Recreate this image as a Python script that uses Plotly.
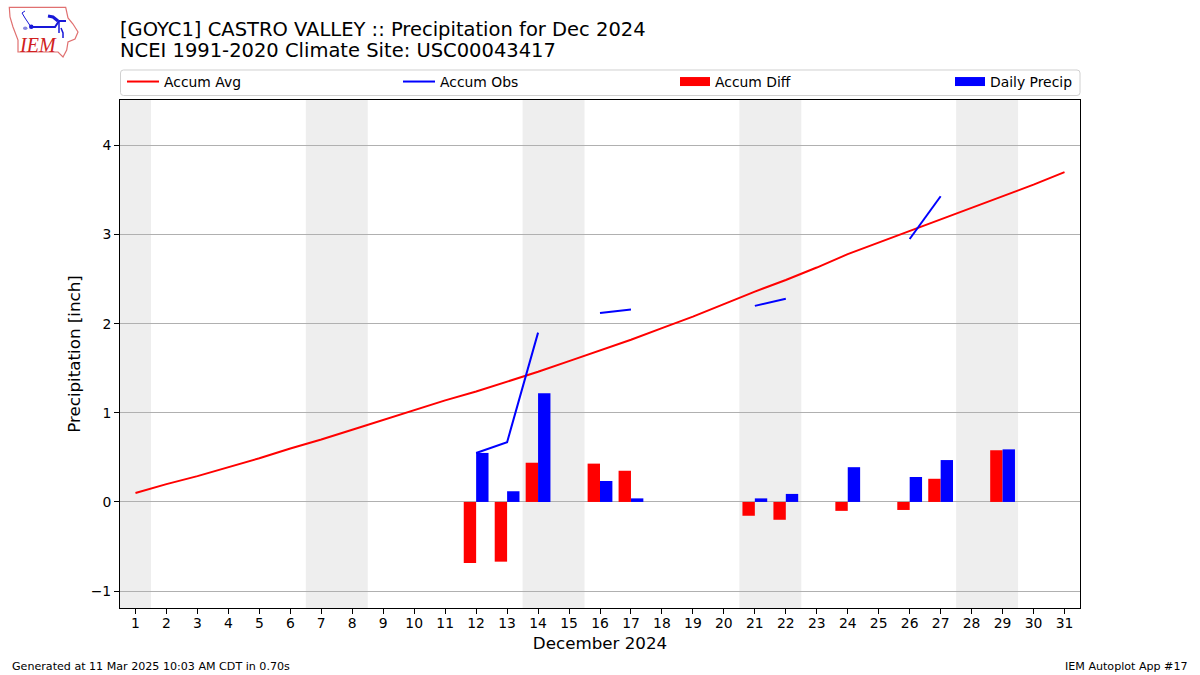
import plotly.graph_objects as go

days = list(range(1, 32))
accum_avg = [0.10, 0.20, 0.29, 0.39, 0.49, 0.60, 0.70, 0.81, 0.92, 1.03, 1.14, 1.24, 1.35, 1.46, 1.58, 1.70,
             1.82, 1.95, 2.08, 2.22, 2.36, 2.49, 2.63, 2.78, 2.91, 3.04, 3.17, 3.30, 3.43, 3.56, 3.70]
accum_obs = [None] * 11 + [0.55, 0.67, 1.90, None, 2.12, 2.16, None, None, None, 2.20, 2.28,
                           None, None, None, 2.95, 3.43, None, None, None, None]
bar_days = [12, 13, 14, 16, 17, 21, 22, 24, 26, 27, 29]
accum_diff = [-0.685, -0.67, 0.44, 0.43, 0.35, -0.155, -0.20, -0.10, -0.09, 0.26, 0.58]
daily_precip = [0.55, 0.12, 1.22, 0.235, 0.04, 0.04, 0.09, 0.39, 0.28, 0.47, 0.59]
weekend_spans = [(0.5, 1.5), (6.5, 8.5), (13.5, 15.5), (20.5, 22.5), (27.5, 29.5)]
y_ticks = [-1, 0, 1, 2, 3, 4]

W, H = 1200, 675
L, R, T, B = 120, 1080, 100, 608
FONT = "DejaVu Sans"


def px(x):
    return (x - L) / (R - L)


def py(y):
    return (B - y) / (B - T)


def paper_path(points, close=False):
    d = "M" + " L".join(f"{px(x):.5f},{py(y):.5f}" for x, y in points)
    return d + (" Z" if close else "")


fig = go.Figure()
fig.add_scatter(x=days, y=accum_avg, mode="lines", name="Accum Avg", line=dict(color="#ff0000", width=2),
                legend="legend")
fig.add_scatter(x=days, y=accum_obs, mode="lines", name="Accum Obs", line=dict(color="#0000ff", width=2),
                connectgaps=False, legend="legend2")
fig.add_bar(x=bar_days, y=accum_diff, name="Accum Diff", marker=dict(color="#ff0000", line_width=0),
            legendgroup="d", showlegend=False)
fig.add_bar(x=bar_days, y=daily_precip, name="Daily Precip", marker=dict(color="#0000ff", line_width=0),
            legendgroup="p", showlegend=False)
# legend swatches as wide patches, as in the reference
fig.add_scatter(x=[1], y=[None], mode="lines", name="Accum Diff", legendgroup="d",
                line=dict(color="#ff0000", width=9), legend="legend3")
fig.add_scatter(x=[1], y=[None], mode="lines", name="Daily Precip", legendgroup="p",
                line=dict(color="#0000ff", width=9), legend="legend4")

shapes = []
for a, b in weekend_spans:
    shapes.append(dict(type="rect", xref="x", yref="paper", x0=a, x1=b, y0=0, y1=1, layer="below",
                       fillcolor="#eeeeee", line_width=0))

# rounded legend frame
x0, x1, y0, y1, r = 120.5, 1080, 70, 95.5, 3
frame = (f"M{px(x0+r):.5f},{py(y0):.5f} L{px(x1-r):.5f},{py(y0):.5f} "
         f"Q{px(x1):.5f},{py(y0):.5f} {px(x1):.5f},{py(y0+r):.5f} L{px(x1):.5f},{py(y1-r):.5f} "
         f"Q{px(x1):.5f},{py(y1):.5f} {px(x1-r):.5f},{py(y1):.5f} L{px(x0+r):.5f},{py(y1):.5f} "
         f"Q{px(x0):.5f},{py(y1):.5f} {px(x0):.5f},{py(y1-r):.5f} L{px(x0):.5f},{py(y0+r):.5f} "
         f"Q{px(x0):.5f},{py(y0):.5f} {px(x0+r):.5f},{py(y0):.5f} Z")
shapes.append(dict(type="path", xref="paper", yref="paper", path=frame, line=dict(color="#d0d0d0", width=1)))

# IEM logo
outline = [(9.3, 7.3), (65.7, 7.3), (68, 18), (73, 24), (78, 32), (75, 39), (68, 42), (66.7, 50), (63, 57),
           (58, 52), (18, 52), (18, 40), (13, 27), (10, 17)]
shapes.append(dict(type="path", xref="paper", yref="paper", path=paper_path(outline, True),
                   line=dict(color="#e07070", width=1.2)))
for seg, w in [([(31, 27), (55, 27), (59, 21), (66, 21)], 2), ([(59, 21), (59, 33)], 1.5),
               ([(61, 28), (63, 33), (63, 38)], 1.5), ([(25, 18), (22, 13), (25, 11)], 1),
               ([(25, 18), (31, 27)], 1), ([(48, 16), (53, 17), (58, 21)], 3)]:
    shapes.append(dict(type="path", xref="paper", yref="paper", path=paper_path(seg),
                       line=dict(color="#1818d8", width=w)))
shapes.append(dict(type="circle", xref="paper", yref="paper", x0=px(29), x1=px(33.5), y0=py(29), y1=py(24.5),
                   fillcolor="#1818d8", line_width=0))
shapes.append(dict(type="circle", xref="paper", yref="paper", x0=px(23), x1=px(27.5), y0=py(30), y1=py(26.5),
                   fillcolor="#8888e0", line_width=0))

annotations = [
    dict(text="NCEI 1991-2020 Climate Site: USC00043417", x=px(118), y=py(51), xref="paper", yref="paper",
         xanchor="left", yanchor="middle", showarrow=False, font=dict(family=FONT, size=19.5, color="black")),
    dict(text="Generated at 11 Mar 2025 10:03 AM CDT in 0.70s", x=px(10), y=py(666), xref="paper", yref="paper",
         xanchor="left", yanchor="middle", showarrow=False, font=dict(family=FONT, size=11.1, color="black")),
    dict(text="IEM Autoplot App #17", x=px(1190), y=py(666), xref="paper", yref="paper",
         xanchor="right", yanchor="middle", showarrow=False, font=dict(family=FONT, size=11.1, color="black")),
    dict(text="<i>IEM</i>", x=px(37.5), y=py(45), xref="paper", yref="paper", xanchor="center", yanchor="middle",
         showarrow=False, font=dict(family="Liberation Serif", size=20, color="#d02020")),
]


def legend_at(x_pixel, sample):
    return dict(orientation="h", x=px(x_pixel), xanchor="left", y=py(82), yanchor="middle", itemwidth=sample,
                bgcolor="rgba(0,0,0,0)", borderwidth=0, font=dict(family=FONT, size=13.9),
                itemclick=False, itemdoubleclick=False)


fig.update_layout(
    width=W, height=H, autosize=False,
    margin=dict(l=L, r=W - R, t=T, b=H - B, autoexpand=False),
    paper_bgcolor="white", plot_bgcolor="white",
    barmode="group", bargap=0.2, bargroupgap=0,
    font=dict(family=FONT, size=13.9, color="black"),
    title=dict(text="[GOYC1] CASTRO VALLEY :: Precipitation for Dec 2024", x=px(120), xref="paper", xanchor="left",
               y=1 - 29 / H, yref="container", yanchor="middle", font=dict(family=FONT, size=19.5, color="black")),
    legend=legend_at(122, 32), legend2=legend_at(398, 32), legend3=legend_at(675, 30), legend4=legend_at(950, 30),
    shapes=shapes, annotations=annotations,
    xaxis=dict(range=[0.5, 31.5], tickmode="array", tickvals=days, ticktext=[str(d) for d in days],
               ticks="outside", ticklen=5, tickwidth=1, tickcolor="black", showgrid=False, zeroline=False,
               showline=True, linecolor="black", linewidth=1, mirror=True, ticklabelstandoff=-3,
               title=dict(text="December 2024", standoff=7, font=dict(family=FONT, size=16.7)),
               tickfont=dict(family=FONT, size=13.9)),
    yaxis=dict(range=[-1.19, 4.51], tickmode="array", tickvals=y_ticks, ticktext=["\u22121", "0", "1", "2", "3", "4"],
               ticks="outside", ticklen=5, tickwidth=1, tickcolor="black", showgrid=True, gridcolor="#b0b0b0",
               gridwidth=1, zeroline=False, showline=True, linecolor="black", linewidth=1, mirror=True,
               title=dict(text="Precipitation [inch]", standoff=5, font=dict(family=FONT, size=16.7)),
               tickfont=dict(family=FONT, size=13.9)),
)

fig.write_html("out.html", config=dict(displayModeBar=False),
               post_script="document.body.style.margin='0';")
